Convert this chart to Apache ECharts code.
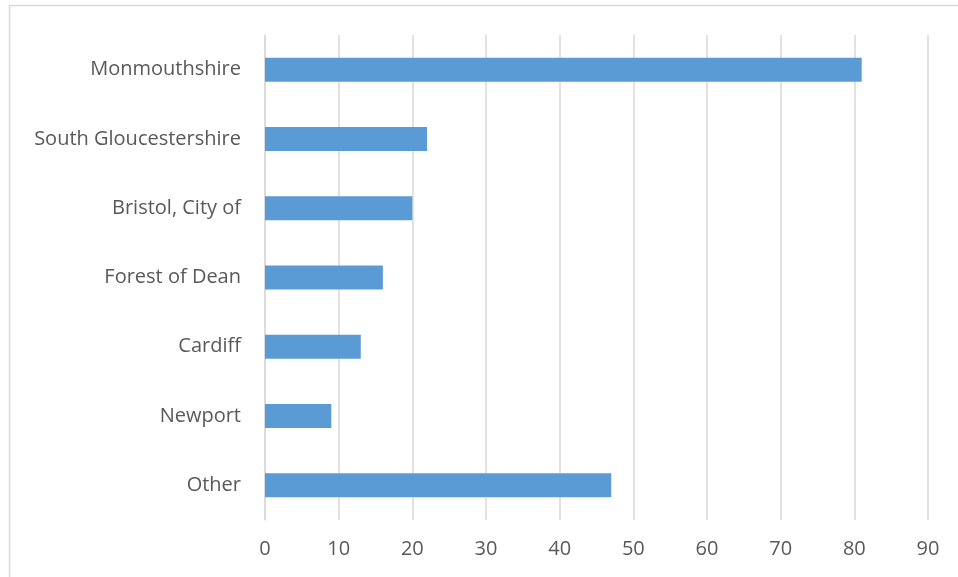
<!DOCTYPE html>
<html>
<head>
<meta charset="utf-8">
<script src="https://cdn.jsdelivr.net/npm/echarts@6/dist/echarts.min.js"></script>
<style>
html,body{margin:0;padding:0;background:#fff;}
#c{width:958px;height:577px;}
</style>
</head>
<body>
<div id="c"></div>
<script>
var categories = ['Monmouthshire', 'South Gloucestershire', 'Bristol, City of', 'Forest of Dean', 'Cardiff', 'Newport', 'Other'];
var values = [81, 22, 20, 16, 13, 9, 47];
var xTicks = [0, 10, 20, 30, 40, 50, 60, 70, 80, 90];

var chart = echarts.init(document.getElementById('c'), null, {renderer: 'canvas'});
var font = 'Open Sans';
chart.setOption({
  animation: false,
  backgroundColor: '#ffffff',
  graphic: [{
    type: 'rect', shape: {x: 9.5, y: 5.5, width: 1000, height: 700},
    style: {fill: 'none', stroke: '#d9d9d9', lineWidth: 1.5}, silent: true
  }],
  grid: {left: 265, right: 30, top: 35, bottom: 57, containLabel: false},
  xAxis: {
    type: 'value', min: xTicks[0], max: xTicks[xTicks.length - 1], interval: 10,
    axisLine: {show: false}, axisTick: {show: false},
    axisLabel: {color: '#595959', fontFamily: font, fontSize: 20, margin: 19},
    splitLine: {show: true, lineStyle: {color: '#d9d9d9', width: 1.5}}
  },
  yAxis: {
    type: 'category', data: categories, inverse: true,
    axisLine: {show: true, lineStyle: {color: '#d9d9d9', width: 1.5}},
    axisTick: {show: false},
    axisLabel: {color: '#595959', fontFamily: font, fontSize: 20, margin: 24}
  },
  series: [{
    type: 'bar', data: values, barWidth: 24,
    itemStyle: {color: '#5b9bd5'}
  }]
});
</script>
</body>
</html>
